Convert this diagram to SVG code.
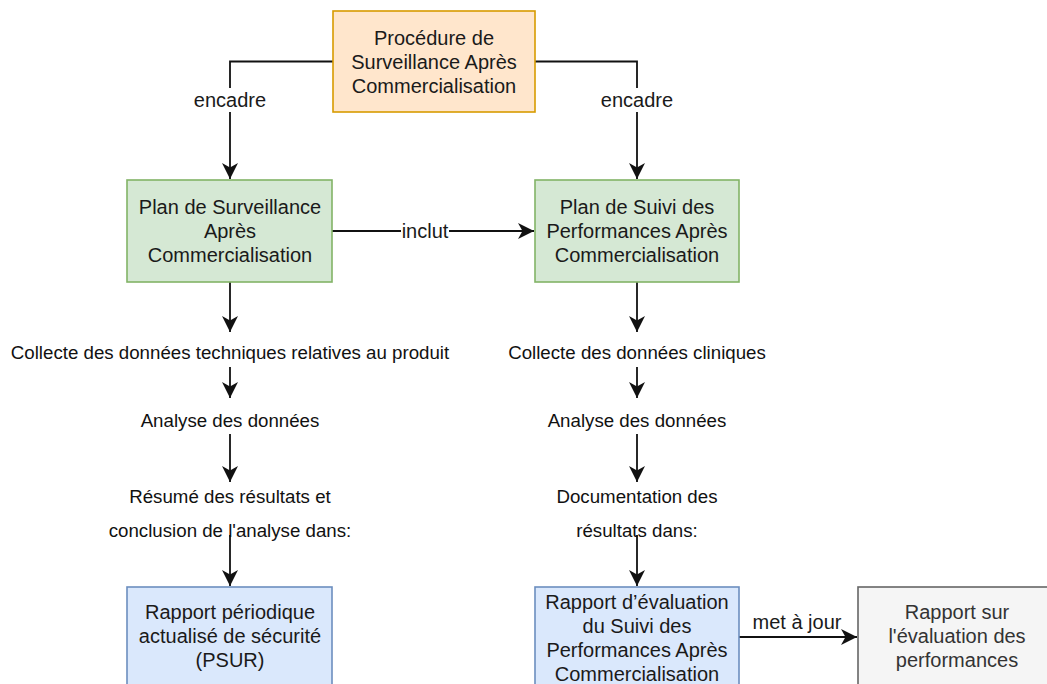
<svg xmlns="http://www.w3.org/2000/svg" width="1047" height="684" viewBox="0 0 1047 684">
  <style>
    .box { stroke-width: 1.6; }
    .orange { fill: #ffe6cc; stroke: #d79b00; }
    .green { fill: #d5e8d4; stroke: #82b366; }
    .blue { fill: #dae8fc; stroke: #6c8ebf; }
    .grey { fill: #f5f5f5; stroke: #666666; }
    .t { font-family: "Liberation Sans", Arial, sans-serif; font-size: 20px; fill: #1a1a1a; text-anchor: middle; }
    .tg { fill: #333333; }
    .s { font-family: "Liberation Sans", Arial, sans-serif; font-size: 18.7px; fill: #111111; text-anchor: middle; }
    .edge { fill: none; stroke: #111111; stroke-width: 1.8; }
    .lbl { font-family: "Liberation Sans", Arial, sans-serif; font-size: 20px; fill: #1a1a1a; text-anchor: middle; }
  </style>
  <defs>
    <marker id="arrow" markerUnits="userSpaceOnUse" markerWidth="18" markerHeight="18" refX="16" refY="8" orient="auto">
      <path d="M0,0 L16,8 L0,16 L4.5,8 Z" fill="#111111"/>
    </marker>
  </defs>
  <rect width="1047" height="684" fill="#ffffff"/>

  <g id="connectors">
    <!-- procedure to both plans -->
    <path class="edge" d="M333,61.5 H230 V179" marker-end="url(#arrow)"/>
    <rect x="190" y="88" width="80" height="24" fill="#ffffff"/>
    <text class="lbl" x="230" y="107">encadre</text>
    <path class="edge" d="M535,61.5 H637 V179" marker-end="url(#arrow)"/>
    <rect x="597" y="88" width="80" height="24" fill="#ffffff"/>
    <text class="lbl" x="637" y="107">encadre</text>

    <!-- plan to plan -->
    <path class="edge" d="M332,231 H534"/>
    <path class="edge" d="M450,231 H534" marker-end="url(#arrow)"/>
    <rect x="401" y="220" width="48" height="24" fill="#ffffff"/>
    <text class="lbl" x="425" y="238">inclut</text>

    <!-- left chain -->
    <path class="edge" d="M230,282 V332" marker-end="url(#arrow)"/>
    <path class="edge" d="M230,367 V398" marker-end="url(#arrow)"/>
    <path class="edge" d="M230,434 V482" marker-end="url(#arrow)"/>
    <path class="edge" d="M230,535 V586" marker-end="url(#arrow)"/>

    <!-- right chain -->
    <path class="edge" d="M637,282 V332" marker-end="url(#arrow)"/>
    <path class="edge" d="M637,367 V398" marker-end="url(#arrow)"/>
    <path class="edge" d="M637,434 V482" marker-end="url(#arrow)"/>
    <path class="edge" d="M637,535 V586" marker-end="url(#arrow)"/>

    <!-- report update -->
    <path class="edge" d="M739,637 H857" marker-end="url(#arrow)"/>
    <text class="lbl" x="797" y="629">met à jour</text>
  </g>

  <g id="procedure">
    <rect class="box orange" x="333" y="11" width="202" height="101"/>
    <text class="t" x="434" y="44.5">Procédure de</text>
    <text class="t" x="434" y="68.5">Surveillance Après</text>
    <text class="t" x="434" y="92.5">Commercialisation</text>
  </g>

  <g id="plan-surveillance">
    <rect class="box green" x="127" y="180" width="205" height="102"/>
    <text class="t" x="230" y="214">Plan de Surveillance</text>
    <text class="t" x="230" y="238">Après</text>
    <text class="t" x="230" y="262">Commercialisation</text>
  </g>

  <g id="plan-suivi">
    <rect class="box green" x="535" y="180" width="204" height="102"/>
    <text class="t" x="637" y="214">Plan de Suivi des</text>
    <text class="t" x="637" y="238">Performances Après</text>
    <text class="t" x="637" y="262">Commercialisation</text>
  </g>

  <g id="collecte-technique">
    <text class="s" x="230" y="358.5">Collecte des données techniques relatives au produit</text>
  </g>
  <g id="analyse-gauche">
    <text class="s" x="230" y="426.5">Analyse des données</text>
  </g>
  <g id="resume">
    <text class="s" x="230" y="502.5">Résumé des résultats et</text>
    <text class="s" x="230" y="536.5">conclusion de l'analyse dans:</text>
  </g>

  <g id="collecte-clinique">
    <text class="s" x="637" y="358.5">Collecte des données cliniques</text>
  </g>
  <g id="analyse-droite">
    <text class="s" x="637" y="426.5">Analyse des données</text>
  </g>
  <g id="documentation">
    <text class="s" x="637" y="502.5">Documentation des</text>
    <text class="s" x="637" y="536.5">résultats dans:</text>
  </g>

  <g id="psur">
    <rect class="box blue" x="127" y="587" width="205" height="102"/>
    <text class="t" x="230" y="619">Rapport périodique</text>
    <text class="t" x="230" y="643">actualisé de sécurité</text>
    <text class="t" x="230" y="667">(PSUR)</text>
  </g>

  <g id="rapport-suivi">
    <rect class="box blue" x="535" y="587" width="204" height="102"/>
    <text class="t" x="637" y="609">Rapport d’évaluation</text>
    <text class="t" x="637" y="633">du Suivi des</text>
    <text class="t" x="637" y="657">Performances Après</text>
    <text class="t" x="637" y="681">Commercialisation</text>
  </g>

  <g id="rapport-performances">
    <rect class="box grey" x="858" y="587" width="195" height="102"/>
    <text class="t tg" x="957" y="619">Rapport sur</text>
    <text class="t tg" x="957" y="643">l'évaluation des</text>
    <text class="t tg" x="957" y="667">performances</text>
  </g>
</svg>
